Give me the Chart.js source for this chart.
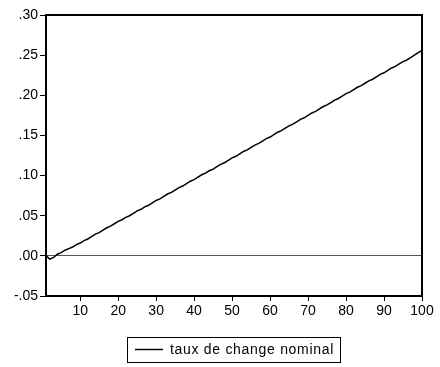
<!DOCTYPE html>
<html>
<head>
<meta charset="utf-8">
<script src="https://cdn.jsdelivr.net/npm/chart.js@4/dist/chart.umd.min.js"></script>
<style>
  html, body { margin: 0; padding: 0; background: #fff; }
  #wrap { width: 440px; height: 367px; }
</style>
</head>
<body>
<div id="wrap"><canvas id="chart" width="440" height="367"></canvas></div>
<script>
// periods 1..100
var periods = [];
for (var i = 1; i <= 100; i++) periods.push(i);

var tauxDeChange = [
  0.000, -0.004, -0.002, 0.002, 0.004, 0.007, 0.009, 0.011, 0.014, 0.016,
  0.019, 0.021, 0.024, 0.027, 0.029, 0.032, 0.035, 0.037, 0.040, 0.043,
  0.045, 0.048, 0.050, 0.053, 0.056, 0.058, 0.061, 0.063, 0.066, 0.069,
  0.071, 0.074, 0.077, 0.079, 0.082, 0.085, 0.087, 0.090, 0.093, 0.095,
  0.098, 0.101, 0.103, 0.106, 0.108, 0.111, 0.114, 0.116, 0.119, 0.122,
  0.124, 0.127, 0.130, 0.132, 0.135, 0.138, 0.140, 0.143, 0.146, 0.148,
  0.151, 0.154, 0.156, 0.159, 0.162, 0.164, 0.167, 0.170, 0.172, 0.175,
  0.178, 0.180, 0.183, 0.186, 0.188, 0.191, 0.194, 0.196, 0.199, 0.202,
  0.204, 0.207, 0.210, 0.212, 0.215, 0.218, 0.220, 0.223, 0.226, 0.228,
  0.231, 0.234, 0.236, 0.239, 0.242, 0.244, 0.247, 0.250, 0.253, 0.256
];

var xTicks = [10, 20, 30, 40, 50, 60, 70, 80, 90, 100];
var yTicks = [-0.05, 0.00, 0.05, 0.10, 0.15, 0.20, 0.25, 0.30];
var seriesLabel = 'taux de change nominal';

var FONT = 'Liberation Sans, Arial, sans-serif';

function fmtY(v) {
  var s = Math.abs(v).toFixed(2).replace(/^0/, '');
  return (v < -1e-9 ? '-' : '') + s;
}

// top/right frame + boxed legend
var framePlugin = {
  id: 'frame',
  afterDraw: function(chart) {
    var ctx = chart.ctx, a = chart.chartArea;
    ctx.save();
    ctx.strokeStyle = '#000';
    ctx.lineWidth = 2;
    ctx.beginPath();
    ctx.moveTo(a.left, a.top);
    ctx.lineTo(a.right, a.top);
    ctx.lineTo(a.right, a.bottom);
    ctx.stroke();

    // legend
    ctx.lineWidth = 1;
    ctx.strokeRect(127.5, 337.5, 213, 25);
    ctx.beginPath();
    ctx.moveTo(135, 349.5);
    ctx.lineTo(163, 349.5);
    ctx.lineWidth = 1.5;
    ctx.stroke();
    ctx.fillStyle = '#000';
    ctx.font = '14px ' + FONT;
    ctx.letterSpacing = '0.7px';
    ctx.textBaseline = 'middle';
    ctx.fillText(seriesLabel, 170, 350);
    ctx.restore();
  }
};

new Chart(document.getElementById('chart'), {
  type: 'line',
  data: {
    labels: periods,
    datasets: [{
      label: seriesLabel,
      data: tauxDeChange,
      borderColor: '#000',
      borderWidth: 1.5,
      pointRadius: 0,
      tension: 0,
      fill: false
    }]
  },
  options: {
    responsive: false,
    animation: false,
    layout: { padding: { top: 15, right: 18, left: 0, bottom: 0 } },
    plugins: { legend: { display: false }, tooltip: { enabled: false } },
    scales: {
      x: {
        type: 'linear',
        min: 1, max: 100,
        afterBuildTicks: function(s) { s.ticks = xTicks.map(function(v) { return { value: v }; }); },
        afterFit: function(s) { s.height = 71; },
        grid: { drawOnChartArea: false, tickLength: 5, tickColor: '#000' },
        border: { display: true, color: '#000', width: 2 },
        ticks: { color: '#000', font: { family: FONT, size: 14 }, padding: 2, maxRotation: 0, autoSkip: false }
      },
      y: {
        min: -0.05, max: 0.30,
        afterBuildTicks: function(s) { s.ticks = yTicks.map(function(v) { return { value: v }; }); },
        afterFit: function(s) { s.width = 46; },
        grid: {
          color: function(c) { return (c.tick && Math.abs(c.tick.value) < 1e-9) ? '#555' : 'rgba(0,0,0,0)'; },
          lineWidth: 1,
          tickLength: 6,
          tickColor: '#000'
        },
        border: { display: true, color: '#000', width: 2 },
        ticks: {
          color: '#000', font: { family: FONT, size: 14 }, padding: 2,
          callback: function(v) { return fmtY(v); }
        }
      }
    }
  },
  plugins: [framePlugin]
});
</script>
</body>
</html>
